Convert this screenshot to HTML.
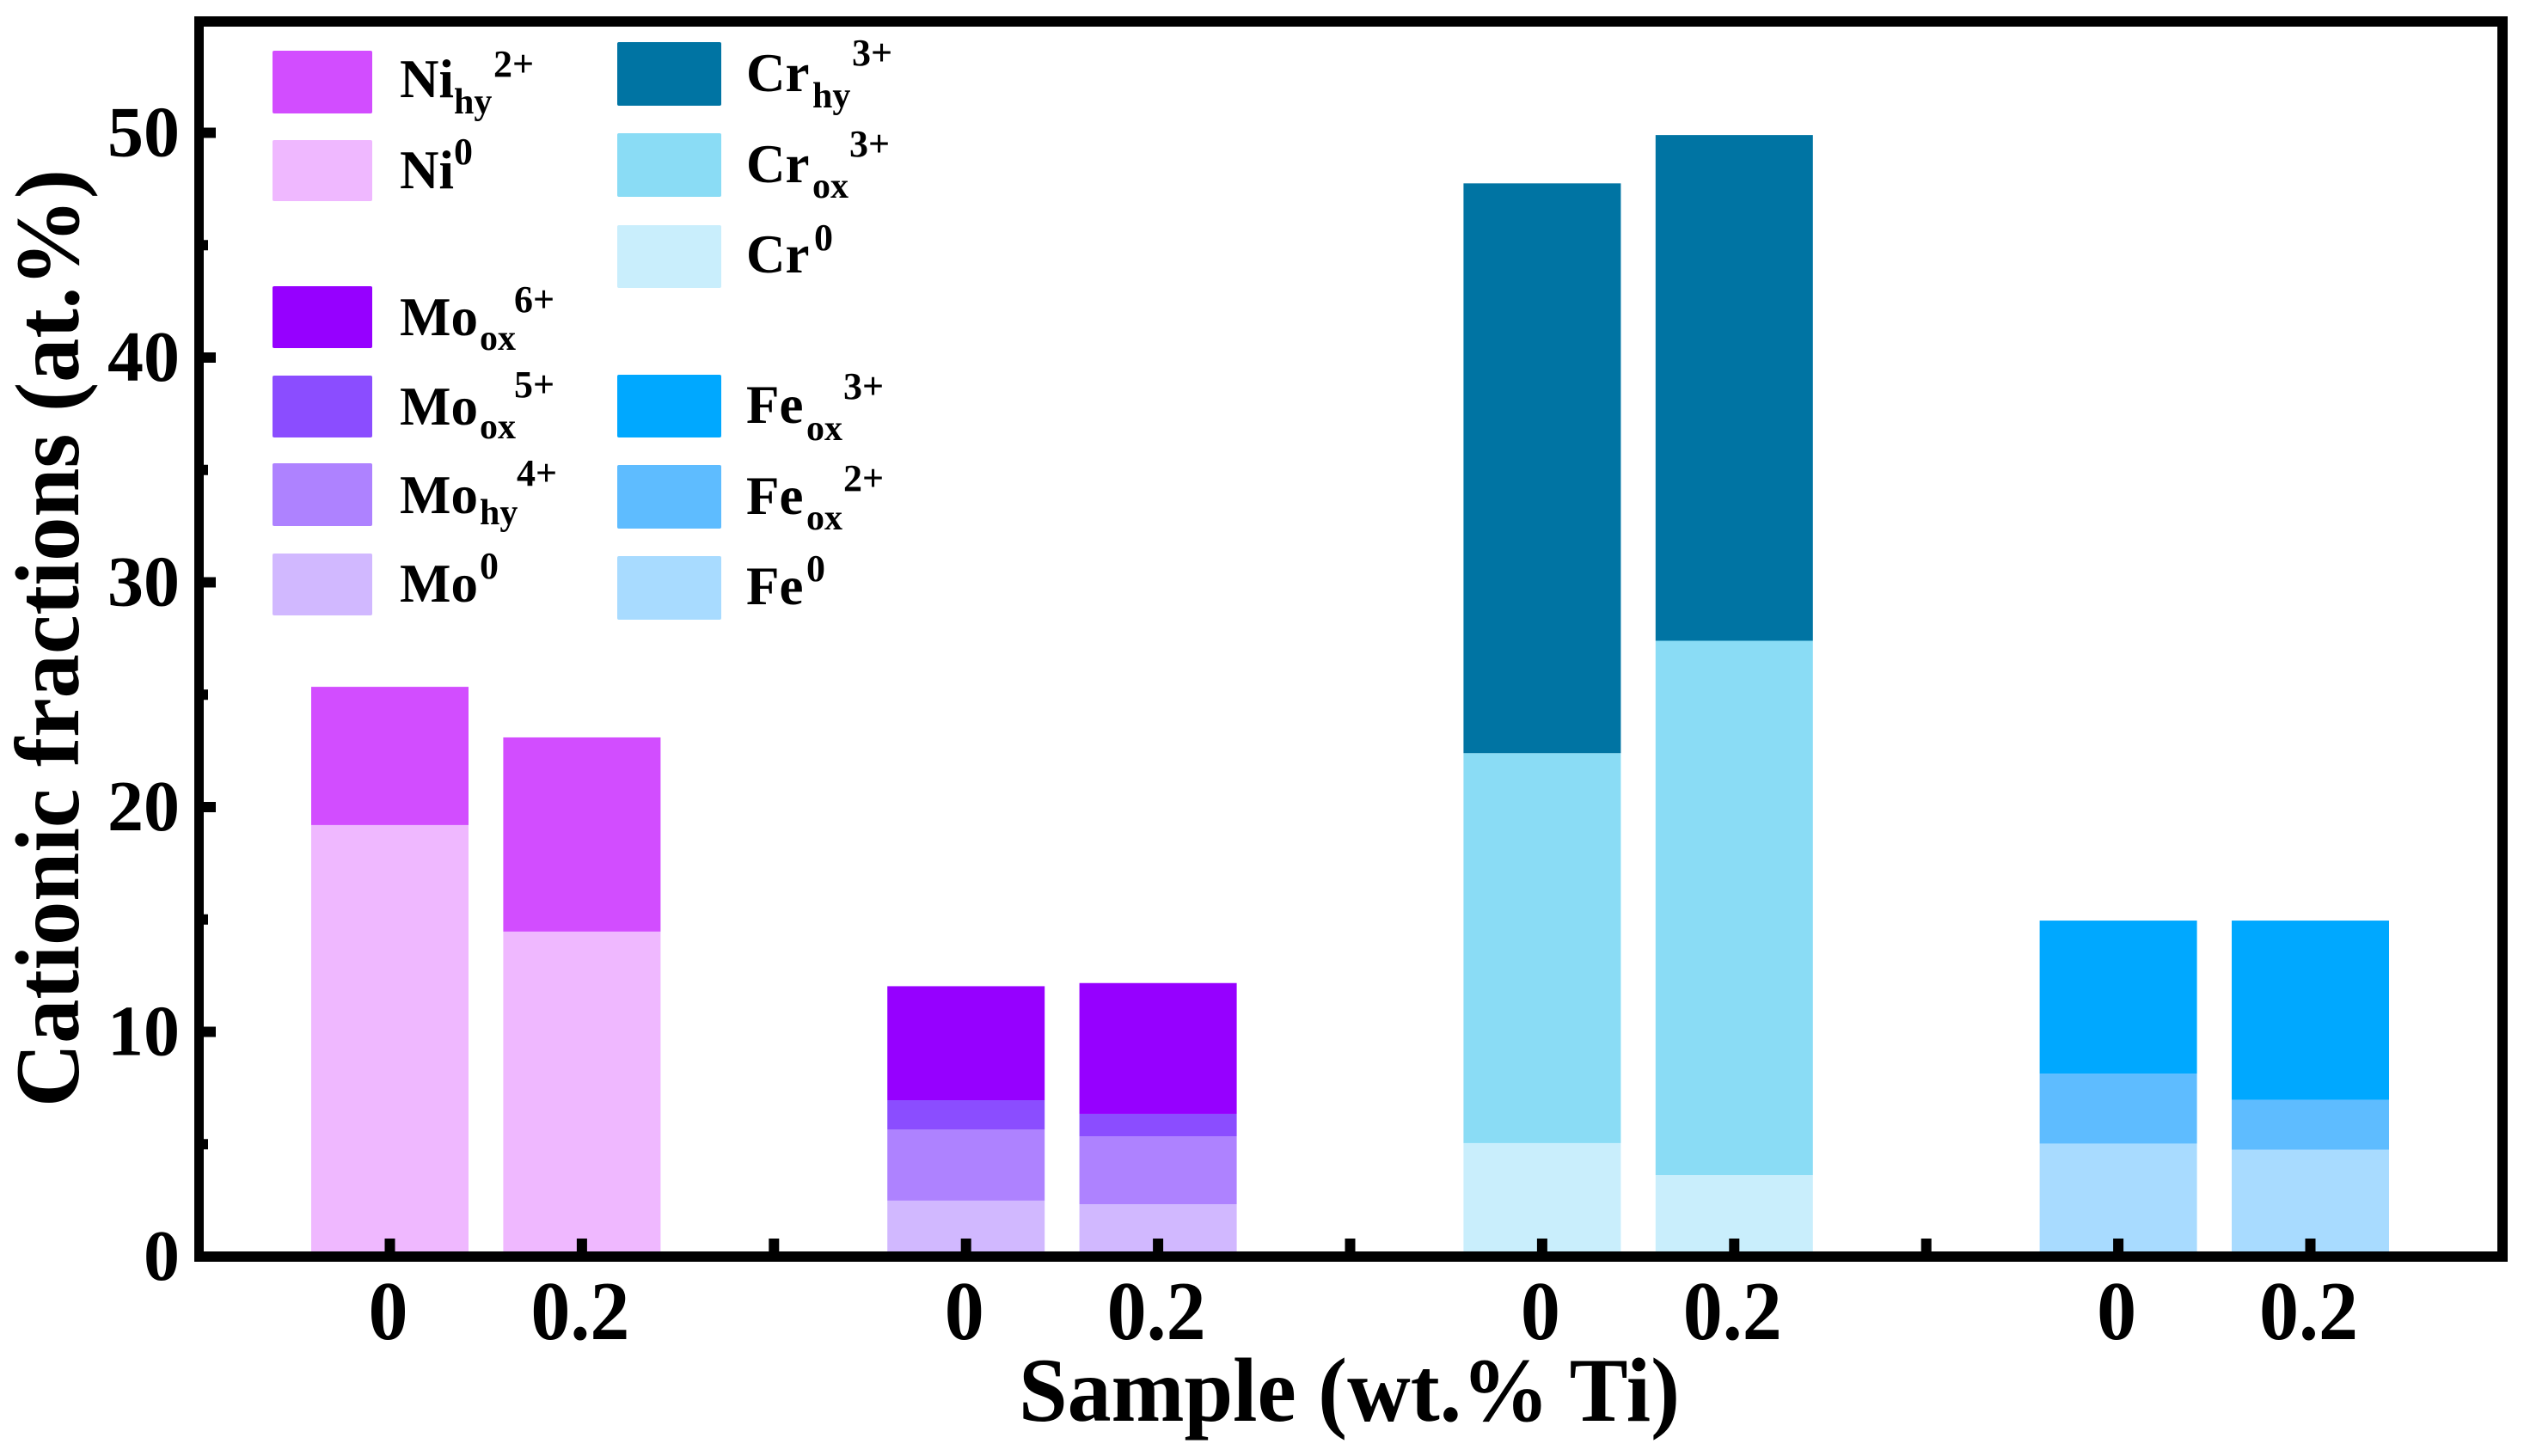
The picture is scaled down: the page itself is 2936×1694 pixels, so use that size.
<!DOCTYPE html>
<html lang="en">
<head>
<meta charset="utf-8">
<title>Cationic fractions by sample</title>
<style>
html,body{margin:0;padding:0;background:#fff;}
svg{display:block;}
text{font-family:"Liberation Serif",serif;font-weight:bold;fill:#000;}
.m{font-size:63px;}
.s{font-size:42px;}
.u{font-size:44px;}
</style>
</head>
<body>
<svg id="chart" xmlns="http://www.w3.org/2000/svg" width="2936" height="1694" viewBox="0 0 2936 1694">
  <rect x="0" y="0" width="2936" height="1694" fill="#fff"/>
  <g id="bars"></g>
  <g id="ticks"></g>
  <g fill="#000">
    <rect x="226" y="19" width="11" height="1449"/>
    <rect x="2905" y="19" width="12" height="1449"/>
    <rect x="226" y="19" width="2691" height="12"/>
    <rect x="226" y="1456" width="2691" height="12"/>
  </g>
  <g id="labels"></g>
  <text x="1185" y="1653" font-size="106" textLength="769" lengthAdjust="spacingAndGlyphs" xml:space="preserve">Sample (wt.% Ti)</text>
  <text transform="translate(91,1288) rotate(-90)" font-size="106" textLength="1091" lengthAdjust="spacingAndGlyphs">Cationic fractions (at.%)</text>

  <g>
    <g><rect x="317" y="59" width="116" height="73" rx="2" fill="#D24DFF"/><text class="m" x="465" y="113">Ni</text><text class="s" x="528" y="132">hy</text><text class="u" x="574" y="89">2+</text></g>
    <g><rect x="317" y="163" width="116" height="71" rx="2" fill="#EFB8FF"/><text class="m" x="465" y="219">Ni</text><text class="u" x="528" y="191">0</text></g>
    <g><rect x="317" y="333" width="116" height="72" rx="2" fill="#9600FF"/><text class="m" x="465" y="390">Mo</text><text class="s" x="558" y="407">ox</text><text class="u" x="598" y="363">6+</text></g>
    <g><rect x="317" y="437" width="116" height="72" rx="2" fill="#8B4DFF"/><text class="m" x="465" y="494">Mo</text><text class="s" x="558" y="510">ox</text><text class="u" x="598" y="462">5+</text></g>
    <g><rect x="317" y="539" width="116" height="73" rx="2" fill="#AE82FF"/><text class="m" x="465" y="597">Mo</text><text class="s" x="558" y="610">hy</text><text class="u" x="601" y="565">4+</text></g>
    <g><rect x="317" y="644" width="116" height="72" rx="2" fill="#D1B8FF"/><text class="m" x="465" y="700">Mo</text><text class="u" x="558" y="673">0</text></g>
    <g><rect x="718" y="49" width="121" height="74" rx="2" fill="#0074A3"/><text class="m" x="868" y="106">Cr</text><text class="s" x="945" y="125">hy</text><text class="u" x="991" y="76">3+</text></g>
    <g><rect x="718" y="155" width="121" height="74" rx="2" fill="#8ADCF5"/><text class="m" x="868" y="212">Cr</text><text class="s" x="945" y="230">ox</text><text class="u" x="988" y="182">3+</text></g>
    <g><rect x="718" y="262" width="121" height="73" rx="2" fill="#C9EEFC"/><text class="m" x="868" y="317">Cr</text><text class="u" x="947" y="291">0</text></g>
    <g><rect x="718" y="436" width="121" height="73" rx="2" fill="#00A8FF"/><text class="m" x="868" y="492">Fe</text><text class="s" x="938" y="512">ox</text><text class="u" x="981" y="464">3+</text></g>
    <g><rect x="718" y="541" width="121" height="74" rx="2" fill="#5EBCFF"/><text class="m" x="868" y="598">Fe</text><text class="s" x="938" y="616">ox</text><text class="u" x="981" y="571">2+</text></g>
    <g><rect x="718" y="647" width="121" height="74" rx="2" fill="#A8DBFF"/><text class="m" x="868" y="703">Fe</text><text class="u" x="938" y="676">0</text></g>
  </g>
</svg>
<script>
// Data: each array holds the segment size for samples [0 wt.% Ti, 0.2 wt.% Ti]
const sampleLabels = ['0', '0.2'];
const yTickLabels = [0, 10, 20, 30, 40, 50];
const yMinorTicks = [5, 15, 25, 35, 45];
const ni0 = [19.2, 14.46];
const niHy = [6.15, 8.64];
const mo0 = [2.49, 2.33];
const moHy = [3.17, 3.02];
const moOx5 = [1.30, 1.00];
const moOx6 = [5.07, 5.82];
const cr0 = [5.05, 3.63];
const crOx = [17.35, 23.77];
const crHy = [25.35, 22.5];
const fe0 = [5.03, 4.76];
const fe2 = [3.11, 2.22];
const fe3 = [6.81, 7.97];
const groupNames = ['ni', 'mo', 'cr', 'fe'];
const niSeries = [ni0, niHy];
const moSeries = [mo0, moHy, moOx5, moOx6];
const crSeries = [cr0, crOx, crHy];
const feSeries = [fe0, fe2, fe3];
const niColors = ['#EFB8FF', '#D24DFF'];
const moColors = ['#D1B8FF', '#AE82FF', '#8B4DFF', '#9600FF'];
const crColors = ['#C9EEFC', '#8ADCF5', '#0074A3'];
const feColors = ['#A8DBFF', '#5EBCFF', '#00A8FF'];

const groupSeries = [niSeries, moSeries, crSeries, feSeries];
const groupColors = [niColors, moColors, crColors, feColors];

const NS = 'http://www.w3.org/2000/svg';
function yScale(v) { return 1462 - 26.15 * v; }
function xScale(i) { return 453.5 + 223.4 * i; }
const barWidth = 183;

const barsLayer = document.getElementById('bars');
const ticksLayer = document.getElementById('ticks');
const labelsLayer = document.getElementById('labels');

groupSeries.forEach(function (series, g) {
  sampleLabels.forEach(function (label, s) {
    const cx = xScale(g * 3 + s);
    let cum = 0;
    series.forEach(function (values, k) {
      const start = cum;
      cum += values[s];
      const r = document.createElementNS(NS, 'rect');
      
      
      r.setAttribute('x', cx - barWidth / 2);
      r.setAttribute('width', barWidth);
      r.setAttribute('y', yScale(cum));
      r.setAttribute('height', yScale(start) - yScale(cum));
      r.setAttribute('fill', groupColors[g][k]);
      barsLayer.appendChild(r);
    });
    const t = document.createElementNS(NS, 'text');
    
    
    t.setAttribute('text-anchor', 'middle');
    t.setAttribute('font-size', '92');
    t.setAttribute('transform', 'translate(' + (cx - 2) + ',1558) scale(1,1.06)');
    t.textContent = label;
    labelsLayer.appendChild(t);
  });
});

for (let i = 0; i <= 10; i++) {
  const tick = document.createElementNS(NS, 'rect');
  
  
  tick.setAttribute('x', xScale(i) - 6);
  tick.setAttribute('y', 1441);
  tick.setAttribute('width', 12);
  tick.setAttribute('height', 16);
  tick.setAttribute('fill', '#000');
  ticksLayer.appendChild(tick);
}

yTickLabels.forEach(function (v) {
  const tick = document.createElementNS(NS, 'rect');
  
  
  tick.setAttribute('x', 237);
  tick.setAttribute('y', yScale(v) - 6);
  tick.setAttribute('width', 14);
  tick.setAttribute('height', 12);
  tick.setAttribute('fill', '#000');
  ticksLayer.appendChild(tick);
  const t = document.createElementNS(NS, 'text');
  
  
  t.setAttribute('text-anchor', 'end');
  t.setAttribute('font-size', '84');
  t.setAttribute('x', 209);
  t.setAttribute('y', yScale(v) + 27);
  t.textContent = String(v);
  labelsLayer.appendChild(t);
});

yMinorTicks.forEach(function (v) {
  const tick = document.createElementNS(NS, 'rect');
  
  
  tick.setAttribute('x', 237);
  tick.setAttribute('y', yScale(v) - 6);
  tick.setAttribute('width', 5);
  tick.setAttribute('height', 12);
  tick.setAttribute('fill', '#000');
  ticksLayer.appendChild(tick);
});
</script>
</body>
</html>
